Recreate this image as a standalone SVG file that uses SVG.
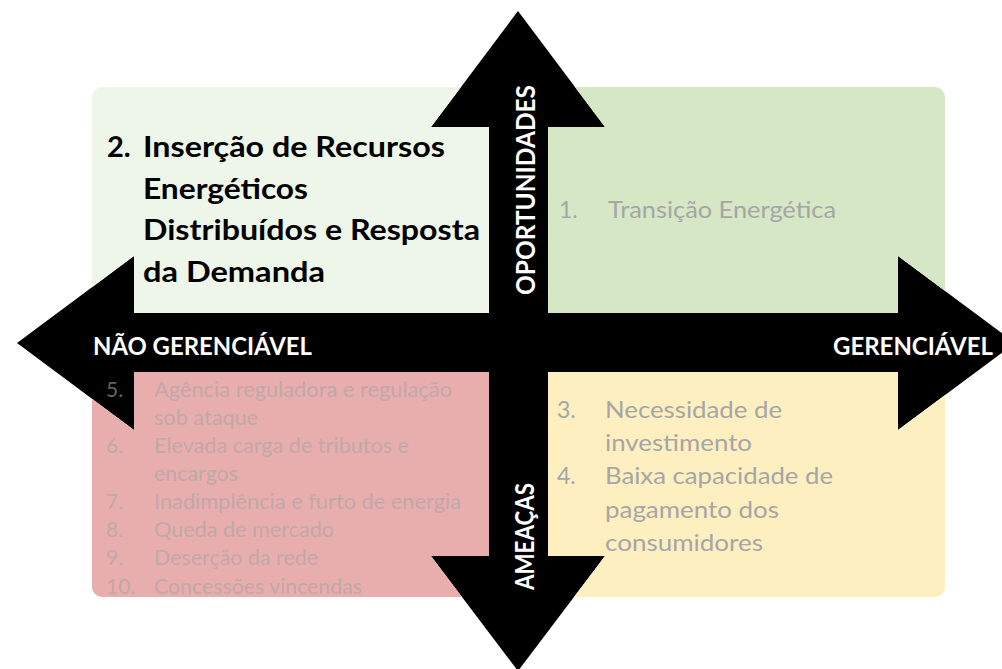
<svg xmlns="http://www.w3.org/2000/svg" width="1002" height="669" viewBox="0 0 1002 669">
<style>
.title{font-family:Lato,"Open Sans","Liberation Sans",sans-serif;font-weight:700;font-size:29px;fill:#000}
.g{font-family:Lato,"Open Sans","Liberation Sans",sans-serif;font-size:23px;fill:#a6a6a6}
.p{font-family:Lato,"Open Sans","Liberation Sans",sans-serif;font-size:21px;fill:#a6a6a6;fill-opacity:.62}
.ax{font-family:Lato,"Open Sans","Liberation Sans",sans-serif;font-weight:700;font-size:24px;fill:#fff}
.vx{font-family:Lato,"Open Sans","Liberation Sans",sans-serif;font-weight:700;font-size:26px;fill:#fff}
.arrow{fill:#000}
</style>
<defs>
<polygon id="varrow" points="518,11 605,127 548,127 548,556 605,556 518,671 431,556 489,556 489,127 431,127"/>
<polygon id="harrow" points="17,343 134,256 134,313 898,313 898,256 1015,343 898,430 898,372 134,372 134,430"/>
<mask id="cut" maskUnits="userSpaceOnUse" x="0" y="0" width="1002" height="669">
<rect x="0" y="0" width="1002" height="669" fill="#fff"/>
<use href="#varrow" fill="#000"/>
<use href="#harrow" fill="#000"/>
</mask>
</defs>
<rect width="1002" height="669" fill="#fff"/>
<g id="connectors">
<use href="#varrow" class="arrow"/>
<use href="#harrow" class="arrow"/>
</g>
<g id="q-top-left">
<rect x="92" y="87" width="440" height="270" rx="10" fill="#eef5e9" mask="url(#cut)"/>
<text class="title" x="107" y="157">2.</text>
<text class="title" x="143" y="157" textLength="302" lengthAdjust="spacingAndGlyphs">Inserção de Recursos</text>
<text class="title" x="143" y="199" textLength="165" lengthAdjust="spacingAndGlyphs">Energéticos</text>
<text class="title" x="143" y="240" textLength="337" lengthAdjust="spacingAndGlyphs">Distribuídos e Resposta</text>
<text class="title" x="143" y="282" textLength="182" lengthAdjust="spacingAndGlyphs">da Demanda</text>
</g>
<g id="q-top-right">
<rect x="505" y="87" width="440" height="270" rx="10" fill="#d5e7c5" mask="url(#cut)"/>
<text class="g" x="559" y="218">1.</text>
<text class="g" x="608" y="218" textLength="228" lengthAdjust="spacingAndGlyphs">Transição Energética</text>
</g>
<g id="q-bottom-left">
<rect x="92" y="330" width="440" height="267" rx="10" fill="#e8adad" mask="url(#cut)"/>
<text class="p" x="106" y="397">5.</text>
<text class="p" x="154" y="397" textLength="298" lengthAdjust="spacingAndGlyphs">Agência reguladora e regulação</text>
<text class="p" x="154" y="425" textLength="104" lengthAdjust="spacingAndGlyphs">sob ataque</text>
<text class="p" x="106" y="453">6.</text>
<text class="p" x="154" y="453" textLength="255" lengthAdjust="spacingAndGlyphs">Elevada carga de tributos e</text>
<text class="p" x="154" y="481" textLength="84" lengthAdjust="spacingAndGlyphs">encargos</text>
<text class="p" x="106" y="509">7.</text>
<text class="p" x="154" y="509" textLength="307" lengthAdjust="spacingAndGlyphs">Inadimplência e furto de energia</text>
<text class="p" x="106" y="537">8.</text>
<text class="p" x="154" y="537" textLength="180" lengthAdjust="spacingAndGlyphs">Queda de mercado</text>
<text class="p" x="106" y="565">9.</text>
<text class="p" x="154" y="565" textLength="164" lengthAdjust="spacingAndGlyphs">Deserção da rede</text>
<text class="p" x="106" y="594">10.</text>
<text class="p" x="154" y="594" textLength="208" lengthAdjust="spacingAndGlyphs">Concessões vincendas</text>
</g>
<g id="q-bottom-right">
<rect x="505" y="330" width="440" height="267" rx="10" fill="#fdefc0" mask="url(#cut)"/>
<text class="g" x="557" y="418">3.</text>
<text class="g" x="605" y="418" textLength="177" lengthAdjust="spacingAndGlyphs">Necessidade de</text>
<text class="g" x="605" y="451" textLength="147" lengthAdjust="spacingAndGlyphs">investimento</text>
<text class="g" x="557" y="484">4.</text>
<text class="g" x="605" y="484" textLength="228" lengthAdjust="spacingAndGlyphs">Baixa capacidade de</text>
<text class="g" x="605" y="518" textLength="174" lengthAdjust="spacingAndGlyphs">pagamento dos</text>
<text class="g" x="605" y="551" textLength="158" lengthAdjust="spacingAndGlyphs">consumidores</text>
</g>
<g id="axis-labels">
<text class="ax" x="93" y="355" textLength="219" lengthAdjust="spacingAndGlyphs">NÃO GERENCIÁVEL</text>
<text class="ax" x="833" y="355" textLength="160" lengthAdjust="spacingAndGlyphs">GERENCIÁVEL</text>
<text class="vx" transform="translate(535,295) rotate(-90)" x="0" y="0" textLength="210" lengthAdjust="spacingAndGlyphs">OPORTUNIDADES</text>
<text class="vx" transform="translate(534,590) rotate(-90)" x="0" y="0" textLength="107" lengthAdjust="spacingAndGlyphs">AMEAÇAS</text>
</g>
</svg>
